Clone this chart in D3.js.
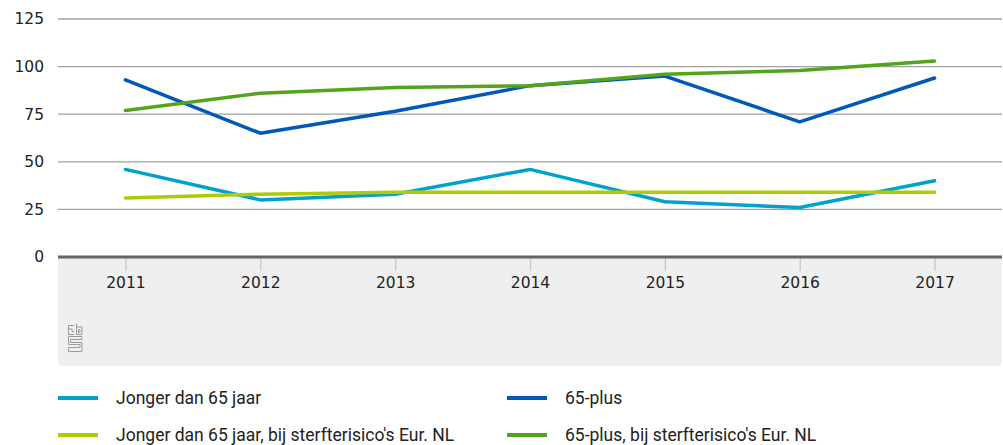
<!DOCTYPE html>
<html>
<head>
<meta charset="utf-8">
<script src="https://cdn.jsdelivr.net/npm/d3@7"></script>
<style>
  body { margin: 0; background: #fff; }
  svg { display: block; }
</style>
</head>
<body>
<svg id="chart-svg"></svg>
<script>
const years = ["2011", "2012", "2013", "2014", "2015", "2016", "2017"];
const jongerValues = [46, 30, 33, 46, 29, 26, 40];
const plusValues = [93, 65, 76.5, 90, 95, 71, 94];
const jongerEurValues = [31, 33, 34, 34, 34, 34, 34];
const plusEurValues = [77, 86, 89, 90, 96, 98, 103];
const yTicks = [0, 25, 50, 75, 100, 125];
const seriesNames = ["Jonger dan 65 jaar", "65-plus", "Jonger dan 65 jaar, bij sterfterisico's Eur. NL", "65-plus, bij sterfterisico's Eur. NL"];
const seriesColors = ["#00a1cd", "#0058b8", "#afcb05", "#53a31d"];

const width = 1003;
const height = 445;

const svg = d3.select("#chart-svg")
    .attr("width", width)
    .attr("height", height);

const plotLeft = 58, plotRight = 1002, plotTop = 19, zeroY = 257;

const xScale = d3.scalePoint()
    .domain(years)
    .range([plotLeft, plotRight])
    .padding(0.5);

const yScale = d3.scaleLinear()
    .domain([0, 125])
    .range([zeroY, plotTop]);

// grey panel under the axis
svg.append("path")
    .attr("d", `M${plotLeft},${zeroY} H${plotRight} V${366 - 4} Q${plotRight},366 ${plotRight - 4},366 H${plotLeft + 4} Q${plotLeft},366 ${plotLeft},${366 - 4} Z`)
    .attr("fill", "#efefef");

// gridlines
svg.append("g")
    .selectAll("line")
    .data(yTicks.filter(d => d > 0))
    .join("line")
    .attr("x1", plotLeft)
    .attr("x2", plotRight)
    .attr("y1", d => yScale(d))
    .attr("y2", d => yScale(d))
    .attr("stroke", "#a0a0a0")
    .attr("stroke-width", 1.3);

// y axis labels
svg.append("g")
    .selectAll("text")
    .data(yTicks)
    .join("text")
    .attr("x", 44)
    .attr("y", d => yScale(d))
    .attr("dy", "0.35em")
    .attr("text-anchor", "end")
    .style("font-family", "DejaVu Sans")
    .style("font-size", "15.5px")
    .style("fill", "#222")
    .text(d => d);

// x axis ticks
const xAxis = svg.append("g")
    .attr("transform", `translate(0,${zeroY})`)
    .call(d3.axisBottom(xScale).tickSize(14).tickPadding(6));
xAxis.select(".domain").remove();
xAxis.selectAll(".tick line").attr("stroke", "#c8c8c8").attr("stroke-width", 1.3);
xAxis.selectAll(".tick text")
    .style("font-family", "DejaVu Sans")
    .style("font-size", "15.5px")
    .style("fill", "#222");

// zero line
svg.append("line")
    .attr("x1", plotLeft)
    .attr("x2", plotRight)
    .attr("y1", zeroY)
    .attr("y2", zeroY)
    .attr("stroke", "#666")
    .attr("stroke-width", 3);

// lines
const allSeries = [jongerValues, plusValues, jongerEurValues, plusEurValues];
const line = d3.line()
    .x((d, i) => xScale(years[i]))
    .y(d => yScale(d));

const drawOrder = [1, 3, 0, 2];
svg.append("g")
    .selectAll("path")
    .data(drawOrder)
    .join("path")
    .attr("d", k => line(allSeries[k]))
    .attr("fill", "none")
    .attr("stroke", k => seriesColors[k])
    .attr("stroke-width", 3.5)
    .attr("stroke-linejoin", "round")
    .attr("stroke-linecap", "round");

// cbs logo
const logo = svg.append("g")
    .attr("transform", "translate(68,323)")
    .attr("fill", "none")
    .attr("stroke", "#9a9a9a")
    .attr("stroke-width", 1);
logo.append("path").attr("d", "M0.5,2.5 H6 M0.5,2.5 V11.5 H6 M0.5,6 H4 V8.5 H6");
logo.append("path").attr("d", "M8.5,0.5 V11.5 H14 V4 H8.5 M10.5,6.5 H12 V9.5 H10.5 Z");
logo.append("path").attr("d", "M14,13.5 H0.5 V21.5 H12 V24.5 H0.5 V28.5 H14 V19.5 H2.5 V16.5 H14 Z");

// legend
const legend = svg.append("g")
    .selectAll("g")
    .data(seriesNames)
    .join("g")
    .attr("transform", (d, i) => `translate(${i % 2 === 0 ? 58 : 507},${i < 2 ? 398 : 435})`);

legend.append("line")
    .attr("x1", 0)
    .attr("x2", 40)
    .attr("stroke", (d, i) => seriesColors[i])
    .attr("stroke-width", 4);

legend.append("text")
    .attr("x", 58)
    .attr("dy", "0.35em")
    .style("font-family", "Roboto")
    .style("font-size", "17.5px")
    .style("fill", "#222")
    .text(d => d);
</script>
</body>
</html>
